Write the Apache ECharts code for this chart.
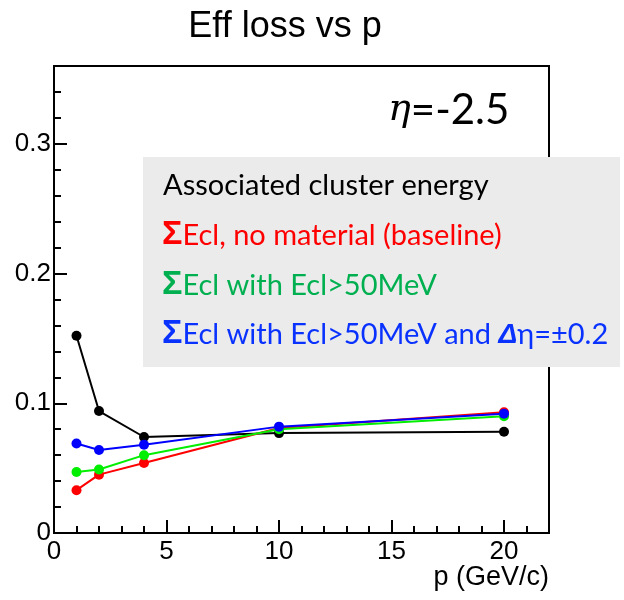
<!DOCTYPE html>
<html>
<head>
<meta charset="utf-8">
<script src="https://cdn.jsdelivr.net/npm/echarts@6/dist/echarts.min.js"></script>
<style>
  html, body { margin: 0; padding: 0; background: #fff; }
  #chart { width: 624px; height: 600px; }
</style>
</head>
<body>
<div id="chart"></div>
<script>
// Momentum points (GeV/c)
const momenta = [1, 2, 4, 10, 20];
// Efficiency loss for each selection
const lossAll = [0.152, 0.094, 0.074, 0.077, 0.078];
const lossBaseline = [0.033, 0.045, 0.054, 0.081, 0.093];
const lossEcl50 = [0.047, 0.049, 0.060, 0.080, 0.090];
const lossEcl50Deta = [0.069, 0.064, 0.068, 0.082, 0.092];

const chartTitle = 'Eff loss vs p';
const xTitle = 'p (GeV/c)';
const etaLabel = '=-2.5';
const boxHeader = 'Associated cluster energy';
const boxLines = [
  { color: '#ff0000', text: 'Ecl, no material (baseline)' },
  { color: '#00b050', text: 'Ecl with Ecl>50MeV' },
  { color: '#0a32ff', text: 'Ecl with Ecl>50MeV and ', tail: true }
];

const AXIS_FONT = '"Liberation Sans", Arial, Helvetica, sans-serif';
const BOX_FONT = 'Lato, "Open Sans", sans-serif';

const pairs = arr => momenta.map((p, i) => [p, arr[i]]);

function lineSeries(name, color, values) {
  return {
    name, type: 'line', data: pairs(values),
    symbol: 'circle', symbolSize: 10,
    lineStyle: { color, width: 2 },
    itemStyle: { color },
    xAxisIndex: 0, yAxisIndex: 0,
    z: 3, animation: false
  };
}

const chart = echarts.init(document.getElementById('chart'));

// Text block inside the grey box
const legendTexts = [];
legendTexts.push({
  type: 'text', x: 163, y: 186, z: 20,
  style: { text: boxHeader, fill: '#000', font: '29px ' + BOX_FONT, textVerticalAlign: 'middle' }
});
boxLines.forEach((ln, i) => {
  let t = '{s|Σ}{t|' + ln.text + '}';
  if (ln.tail) t += '{d|Δ}{t|η=±0.2}';
  legendTexts.push({
    type: 'text', x: 162, y: 235 + i * 49.5, z: 20,
    style: {
      text: t,
      textVerticalAlign: 'middle',
      rich: {
        s: { fontFamily: AXIS_FONT, fontSize: 34, fontWeight: 'bold', fill: ln.color, height: 34, verticalAlign: 'bottom' },
        t: { fontFamily: BOX_FONT, fontSize: 29, fill: ln.color, height: 32, verticalAlign: 'bottom' },
        d: { fontFamily: AXIS_FONT, fontSize: 28, fontWeight: 'bold', fontStyle: 'italic', fill: ln.color, height: 32, verticalAlign: 'bottom' }
      }
    }
  });
});

chart.setOption({
  animation: false,
  backgroundColor: '#ffffff',
  grid: { left: 54, right: 75, top: 66, bottom: 67, show: true, borderColor: '#000', borderWidth: 2, backgroundColor: 'transparent' },
  xAxis: [
    {
      type: 'value', min: 0, max: 22, interval: 5, position: 'bottom',
      axisLine: { show: true, lineStyle: { color: '#000', width: 2 } },
      axisTick: { show: true, inside: true, length: 13, lineStyle: { color: '#000', width: 2 } },
      axisLabel: { color: '#000', fontFamily: AXIS_FONT, fontSize: 26, margin: 6, showMaxLabel: false },
      splitLine: { show: false }
    },
    {
      type: 'value', min: 0, max: 22, interval: 1, position: 'bottom', gridIndex: 0,
      axisLine: { show: false },
      axisTick: { show: true, inside: true, length: 7, lineStyle: { color: '#000', width: 2 } },
      axisLabel: { show: false },
      splitLine: { show: false }
    }
  ],
  yAxis: [
    {
      type: 'value', min: 0, max: 0.36, interval: 0.1, position: 'left',
      axisLine: { show: true, lineStyle: { color: '#000', width: 2 } },
      axisTick: { show: true, inside: true, length: 13, lineStyle: { color: '#000', width: 2 } },
      axisLabel: {
        color: '#000', fontFamily: AXIS_FONT, fontSize: 26, margin: 3, showMaxLabel: false,
        formatter: v => (v === 0 ? '0' : v.toFixed(1))
      },
      splitLine: { show: false }
    },
    {
      type: 'value', min: 0, max: 0.36, interval: 0.02, position: 'left', offset: 0,
      axisLine: { show: false },
      axisTick: { show: true, inside: true, length: 7, lineStyle: { color: '#000', width: 2 } },
      axisLabel: { show: false },
      splitLine: { show: false }
    }
  ],
  series: [
    lineSeries('all clusters', '#000000', lossAll),
    lineSeries('baseline', '#ff0000', lossBaseline),
    lineSeries('Ecl>50MeV', '#00ee00', lossEcl50),
    lineSeries('Ecl>50MeV, deta', '#0000ff', lossEcl50Deta)
  ],
  graphic: [
    {
      type: 'text', x: 285, y: 27, z: 20,
      style: { text: chartTitle, fill: '#000', font: '36px ' + AXIS_FONT, textAlign: 'center', textVerticalAlign: 'middle' }
    },
    {
      type: 'text', x: 549, y: 578, z: 20,
      style: { text: xTitle, fill: '#000', font: '27px ' + AXIS_FONT, textAlign: 'right', textVerticalAlign: 'middle' }
    },
    {
      type: 'text', x: 388, y: 110, z: 20,
      style: {
        text: '{e|η}{t|' + etaLabel + '}',
        textVerticalAlign: 'middle',
        rich: {
          e: { fontFamily: '"DejaVu Serif", serif', fontStyle: 'italic', fontSize: 38, fill: '#000', height: 44, verticalAlign: 'bottom' },
          t: { fontFamily: BOX_FONT, fontSize: 42, fill: '#000', height: 44, verticalAlign: 'bottom' }
        }
      }
    },
    {
      type: 'rect', z: 10,
      shape: { x: 143, y: 157, width: 477, height: 210 },
      style: { fill: '#ebebeb' }
    }
  ].concat(legendTexts)
});
</script>
</body>
</html>
